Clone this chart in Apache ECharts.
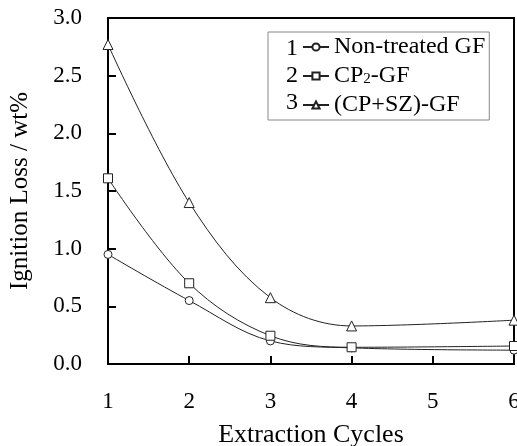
<!DOCTYPE html>
<html>
<head>
<meta charset="utf-8">
<script src="https://cdn.jsdelivr.net/npm/echarts@6/dist/echarts.min.js"></script>
<style>
  html, body { margin: 0; padding: 0; background: #fff; }
  #chart { width: 517px; height: 446px; }
</style>
</head>
<body>
<div id="chart"></div>
<script>
// extraction cycle numbers (x) and ignition loss values (wt%)
const cycles = [1, 2, 3, 4, 6];
const nonTreated = [0.95, 0.55, 0.20, 0.14, 0.12];
const cp2 = [1.61, 0.70, 0.245, 0.145, 0.156];
const cpsz = [2.77, 1.40, 0.575, 0.33, 0.38];
const seriesNames = ['Non-treated GF', 'CP2-GF', '(CP+SZ)-GF'];
const legendNumbers = ['1', '2', '3'];
const yTicks = [0, 0.5, 1.0, 1.5, 2.0, 2.5, 3.0];

const font = 'Liberation Serif';
const pairs = vals => cycles.map((c, i) => [c, vals[i]]);

const myChart = echarts.init(document.getElementById('chart'));

const mkSeries = (name, vals, symbol, size) => ({
  name: name,
  type: 'line',
  data: pairs(vals),
  smooth: 0.35,
  symbol: symbol,
  symbolSize: size,
  showAllSymbol: true,
  lineStyle: { color: '#222', width: 1 },
  itemStyle: { color: '#fff', borderColor: '#222', borderWidth: 1 },
  z: 3
});

const option = {
  animation: false,
  backgroundColor: '#fff',
  grid: {
    left: 108, right: 3, top: 18, bottom: 82,
    outerBoundsMode: 'none',
    containLabel: false,
    show: true, borderColor: '#000', borderWidth: 2
  },
  xAxis: {
    type: 'value',
    min: 1, max: 6, interval: 1,
    name: 'Extraction Cycles',
    nameLocation: 'middle',
    nameGap: 58,
    nameTextStyle: { fontFamily: font, fontSize: 26, color: '#000' },
    axisLine: { lineStyle: { color: '#000', width: 2 } },
    axisTick: { inside: true, length: 8, lineStyle: { color: '#000', width: 2 } },
    axisLabel: { fontFamily: font, fontSize: 23, color: '#000', margin: 26 },
    splitLine: { show: false }
  },
  yAxis: {
    type: 'value',
    min: yTicks[0], max: yTicks[yTicks.length - 1], interval: 0.5,
    name: 'Ignition Loss / wt%',
    nameLocation: 'middle',
    nameGap: 75,
    nameTextStyle: { fontFamily: font, fontSize: 25, color: '#000' },
    axisLine: { lineStyle: { color: '#000', width: 2 } },
    axisTick: { inside: true, length: 8, lineStyle: { color: '#000', width: 2 } },
    axisLabel: {
      fontFamily: font, fontSize: 23, color: '#000', margin: 26,
      formatter: v => v.toFixed(1)
    },
    splitLine: { show: false }
  },
  legend: {
    orient: 'vertical',
    left: 268, top: 32,
    padding: [3, 4, 3, 34],
    borderColor: '#888', borderWidth: 1,
    itemWidth: 26, itemHeight: 9,
    itemGap: 5,
    data: seriesNames,
    textStyle: {
      fontFamily: font, fontSize: 24, color: '#000', lineHeight: 22,
      rich: {
        t: { fontFamily: font, fontSize: 24, color: '#000', lineHeight: 22 },
        sub: { fontFamily: font, fontSize: 15, color: '#000', lineHeight: 6, verticalAlign: 'bottom' }
      }
    },
    formatter: n => n === 'CP2-GF' ? '{t|CP}{sub|2}{t|-GF}' : n
  },
  graphic: legendNumbers.map((num, i) => ({
    type: 'text',
    left: 286,
    top: 37 + i * 27,
    style: { text: num, font: '24px "' + font + '"', fill: '#000' }
  })),
  series: [
    mkSeries(seriesNames[0], nonTreated, 'circle', 8),
    mkSeries(seriesNames[1], cp2, 'rect', 9),
    mkSeries(seriesNames[2], cpsz, 'triangle', 10)
  ]
};

myChart.setOption(option);
</script>
</body>
</html>
